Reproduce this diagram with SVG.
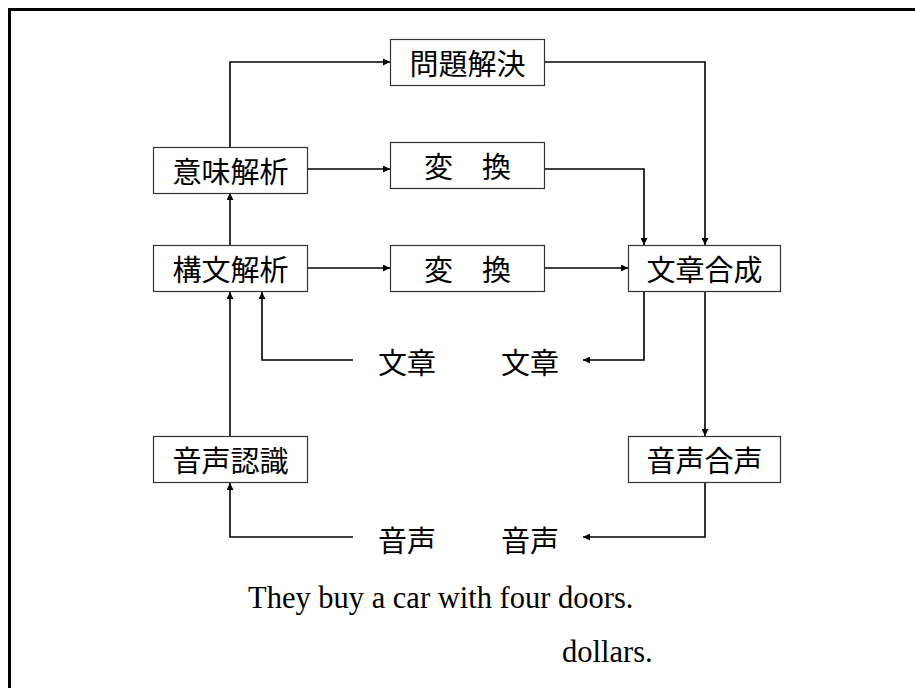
<svg xmlns="http://www.w3.org/2000/svg" width="915" height="688" viewBox="0 0 915 688">
<style>
.box{fill:#fff;stroke:#333;stroke-width:1.2}
.t{font-family:"Noto Sans CJK JP","Noto Sans CJK SC",sans-serif;font-size:29px;fill:#000;text-anchor:middle;dominant-baseline:central}
.c{fill:none;stroke:#000;stroke-width:1.6}
.en{font-family:"Liberation Serif","Times New Roman",serif;font-size:30.5px;fill:#000}
</style>
<defs>
<marker id="ah" viewBox="0 0 10 10" refX="10" refY="5" markerWidth="9" markerHeight="7" markerUnits="userSpaceOnUse" orient="auto">
<path d="M0,0 L10,5 L0,10 z" fill="#000"/>
</marker>
</defs>
<rect width="915" height="688" fill="#fff"/>
<rect x="9.5" y="9.5" width="1000" height="1000" fill="none" stroke="#000" stroke-width="3"/>
<g id="connectors">
<path class="c" d="M230,147 V62 H390" marker-end="url(#ah)"/>
<path class="c" d="M307,169 H390" marker-end="url(#ah)"/>
<path class="c" d="M544,62 H705 V245" marker-end="url(#ah)"/>
<path class="c" d="M544,169 H644 V245" marker-end="url(#ah)"/>
<path class="c" d="M544,268 H628" marker-end="url(#ah)"/>
<path class="c" d="M307,268 H390" marker-end="url(#ah)"/>
<path class="c" d="M230,245 V193" marker-end="url(#ah)"/>
<path class="c" d="M644,292 V360 H583" marker-end="url(#ah)"/>
<path class="c" d="M705,292 V436" marker-end="url(#ah)"/>
<path class="c" d="M705,483 V537 H583" marker-end="url(#ah)"/>
<path class="c" d="M353,537 H230 V483" marker-end="url(#ah)"/>
<path class="c" d="M230,436 V292" marker-end="url(#ah)"/>
<path class="c" d="M353,360 H262 V292" marker-end="url(#ah)"/>
</g>
<g id="mondai"><rect class="box" x="390.5" y="39.5" width="154" height="46"/><text class="t" x="467.5" y="62">問題解決</text></g>
<g id="imi"><rect class="box" x="153.5" y="147.5" width="154" height="46"/><text class="t" x="230.5" y="170">意味解析</text></g>
<g id="henkan1"><rect class="box" x="390.5" y="142.5" width="154" height="46"/><text class="t" x="467.5" y="165">変　換</text></g>
<g id="kobun"><rect class="box" x="153.5" y="245.5" width="154" height="46"/><text class="t" x="230.5" y="268">構文解析</text></g>
<g id="henkan2"><rect class="box" x="390.5" y="245.5" width="154" height="46"/><text class="t" x="467.5" y="268">変　換</text></g>
<g id="bunsho"><rect class="box" x="628.5" y="245.5" width="152" height="46"/><text class="t" x="704.5" y="268">文章合成</text></g>
<g id="onsei-ninshiki"><rect class="box" x="153.5" y="436.5" width="154" height="46"/><text class="t" x="230.5" y="459">音声認識</text></g>
<g id="onsei-gousei"><rect class="box" x="628.5" y="436.5" width="152" height="46"/><text class="t" x="704.5" y="459">音声合声</text></g>
<g id="labels">
<text class="t" x="407" y="361">文章</text>
<text class="t" x="530" y="361">文章</text>
<text class="t" x="407" y="539">音声</text>
<text class="t" x="530" y="539">音声</text>
</g>
<text class="en" x="248" y="608">They buy a car with four doors.</text>
<text class="en" x="562" y="662">dollars.</text>
</svg>
